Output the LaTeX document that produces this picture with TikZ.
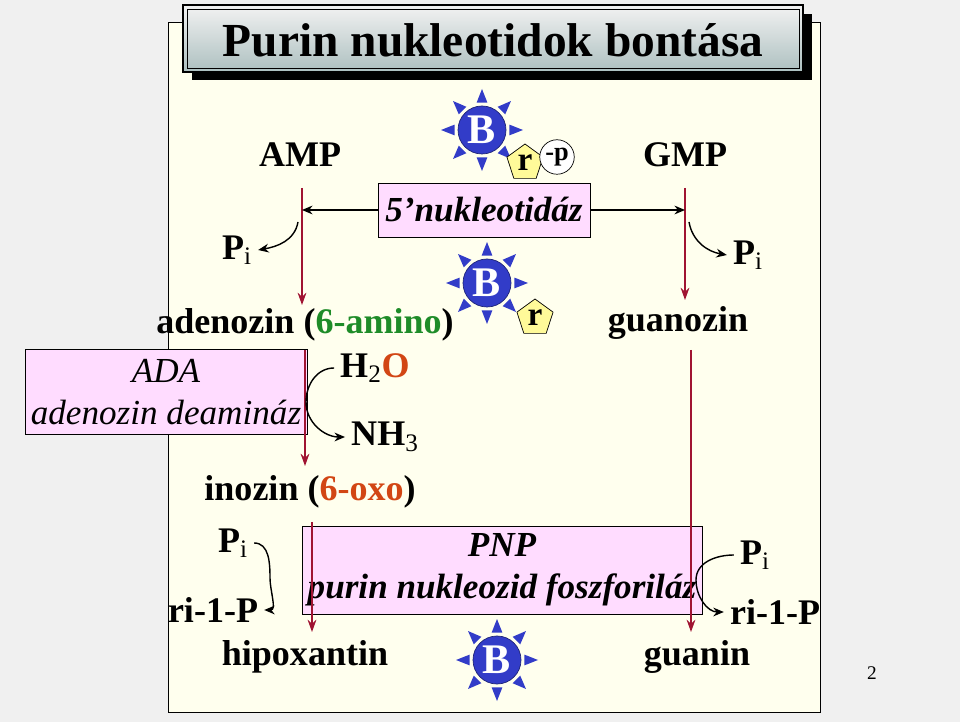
\documentclass[tikz,border=0pt]{standalone}
\usepackage{fontspec}
\setmainfont{Liberation Serif}
\usetikzlibrary{shapes.geometric,arrows.meta}
\definecolor{paper}{RGB}{255,255,238}
\definecolor{enz}{RGB}{255,220,255}
\definecolor{rline}{RGB}{160,20,50}
\definecolor{sun}{RGB}{50,60,200}
\definecolor{grn}{RGB}{30,140,40}
\definecolor{oxo}{RGB}{210,70,20}
\newlength\unitpx \setlength\unitpx{0.02cm}
\tikzset{
  lbl/.style={font=\bfseries\fontsize{20.5}{22}\selectfont},
  enzbox/.style={draw,fill=enz,font=\bfseries\itshape\fontsize{20}{24}\selectfont,align=center},
  react/.style={rline,thick,-{Stealth[length=7pt,width=5pt]}},
  side/.style={thick,-{Stealth[length=6pt,width=5pt]}},
  base/.style={circle,fill=sun,draw=sun!60!black,text=white,minimum size=48\unitpx,inner sep=0pt,font=\bfseries\fontsize{24}{24}\selectfont},
  ribose/.style={regular polygon,regular polygon sides=5,fill=yellow!40,draw,minimum size=38\unitpx,inner sep=0pt,font=\bfseries\fontsize{19}{19}\selectfont},
}
\newcommand\sub[1]{\textsubscript{\mdseries #1}}
\newcommand\sunbase[2]{%
  \node[base] (#1) at (#2) {B};
  \foreach \a in {0,45,...,315}
    \fill[sun] ([shift={(\a+11:28)}]#1.center) -- ([shift={(\a:41)}]#1.center) -- ([shift={(\a-11:28)}]#1.center) -- cycle;
}
\begin{document}
\begin{tikzpicture}[x=0.02cm,y=-0.02cm]
\fill[gray!12] (0,0) rectangle (960,722);
\draw[fill=paper] (168,22) rectangle (820,712);
% title
\fill[black] (192,14) rectangle (812,80);
\draw[thick,top color=gray!10,bottom color=teal!30!gray!50] (183,5) rectangle (803,72);
\draw (187,9) rectangle (799,68);
\node[font=\bfseries\fontsize{27}{28}\selectfont] (title) at (493,40) {Purin nukleotidok bontása};
% nucleotides
\node[lbl] (amp) at (300,155) {AMP};
\node[lbl] (gmp) at (685,155) {GMP};
\sunbase{b1}{482,130}
\node[ribose] (r1) at (525,163) {r};
\node[circle,draw,fill=white,inner sep=1pt,font=\bfseries\fontsize{15}{15}\selectfont] (p1) at (557,157) {-p};
\node[enzbox,minimum width=212\unitpx,minimum height=54\unitpx] (nt) at (484,210) {5’nukleotidáz};
\sunbase{b2}{487,283}
\node[ribose] (r2) at (535,318) {r};
\coordinate (a1) at (302,188);
\coordinate (a2) at (302,305);
\coordinate (g1) at (685,188);
\coordinate (g2) at (685,300);
\draw[react] (a1) -- (a2);
\draw[react] (g1) -- (g2);
\draw[side] (nt.west) -- (a1 |- nt.west);
\draw[side] (nt.east) -- (g1 |- nt.east);
\node[lbl] (pa) at (237,250) {P\sub{i}};
\node[lbl] (pg) at (748,255) {P\sub{i}};
\draw[side] (298,222) to[out=-100,in=10] (pa.east);
\draw[side] (689,222) to[out=-80,in=170] (pg.west);
% nucleosides
\node[lbl] (ado) at (305,325) {adenozin (\textcolor{grn}{6-amino})};
\node[lbl] (guo) at (678,323) {guanozin};
\node[enzbox,font=\itshape\fontsize{20}{24}\selectfont,minimum width=272\unitpx,minimum height=85\unitpx] (ada) at (166,392) {ADA\\adenozin deamináz};
\coordinate (d1) at (305,350);
\coordinate (d2) at (305,466);
\draw[react] (d1) -- (d2);
\node[lbl] (h2o) at (375,368) {H\sub{2}\textcolor{oxo}{O}};
\node[lbl] (nh3) at (385,437) {NH\sub{3}};
\draw[side] (h2o.west) to[out=180,in=90] (306,402) to[out=-90,in=180] (nh3.west);
\node[lbl] (ino) at (310,492) {inozin (\textcolor{oxo}{6-oxo})};
% PNP
\node[enzbox,minimum width=380\unitpx,minimum height=88\unitpx] (pnp) at (502,570) {PNP\\purin nukleozid foszforiláz};
\coordinate (i1) at (312,522);
\coordinate (i2) at (312,632);
\coordinate (u1) at (691,350);
\coordinate (u2) at (691,632);
\draw[react] (i1) -- (i2);
\draw[react] (u1) -- (u2);
\node[lbl] (pl) at (233,543) {P\sub{i}};
\node[lbl] (rl) at (213,610) {ri-1-P};
\draw[side] (pl.east) to[out=0,in=90] (270,578) to[out=-90,in=0] (rl.east);
\node[lbl] (pr) at (755,555) {P\sub{i}};
\node[lbl] (rr) at (775,612) {ri-1-P};
\draw[side] (pr.west) to[out=180,in=90] (696,580) to[out=-90,in=180] (rr.west);
\node[lbl] (hx) at (305,657) {hipoxantin};
\node[lbl] (gu) at (697,657) {guanin};
\sunbase{b3}{497,660}
\node[font=\fontsize{11}{11}\selectfont] (pg2) at (872,673) {2};
\end{tikzpicture}
\end{document}
